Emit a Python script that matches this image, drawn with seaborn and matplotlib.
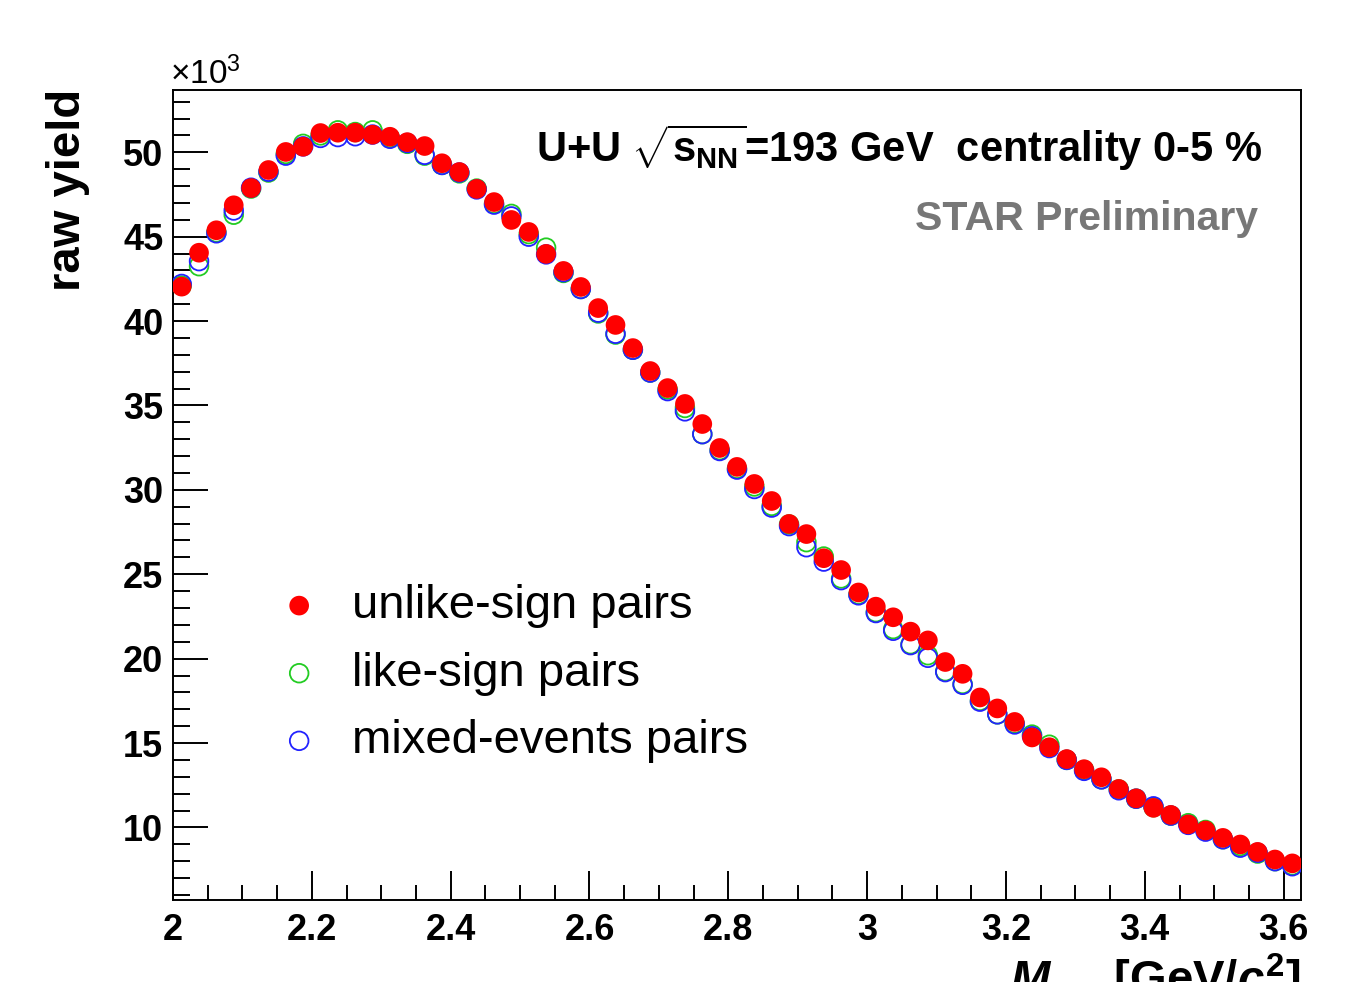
import numpy as np
import pandas as pd
import matplotlib
matplotlib.use("Agg")
import matplotlib.pyplot as plt
from matplotlib.ticker import MultipleLocator, FuncFormatter
import seaborn as sns

# invariant mass bin centres [GeV/c^2], 0.025 wide bins from 2.0 to 3.625
mass = [2.0125, 2.0375, 2.0625, 2.0875, 2.1125, 2.1375, 2.1625, 2.1875, 2.2125, 2.2375,
        2.2625, 2.2875, 2.3125, 2.3375, 2.3625, 2.3875, 2.4125, 2.4375, 2.4625, 2.4875,
        2.5125, 2.5375, 2.5625, 2.5875, 2.6125, 2.6375, 2.6625, 2.6875, 2.7125, 2.7375,
        2.7625, 2.7875, 2.8125, 2.8375, 2.8625, 2.8875, 2.9125, 2.9375, 2.9625, 2.9875,
        3.0125, 3.0375, 3.0625, 3.0875, 3.1125, 3.1375, 3.1625, 3.1875, 3.2125, 3.2375,
        3.2625, 3.2875, 3.3125, 3.3375, 3.3625, 3.3875, 3.4125, 3.4375, 3.4625, 3.4875,
        3.5125, 3.5375, 3.5625, 3.5875, 3.6125]

# raw yields in units of 10^3
unlike = [42.04, 44.05, 45.38, 46.86, 47.88, 48.95, 50.02, 50.33, 51.14, 51.16,
          51.16, 51.04, 50.92, 50.60, 50.37, 49.35, 48.83, 47.83, 47.05, 45.99,
          45.28, 43.98, 42.97, 42.02, 40.77, 39.77, 38.40, 37.04, 36.03, 35.09,
          33.90, 32.48, 31.36, 30.35, 29.34, 27.98, 27.38, 25.95, 25.25, 23.92,
          23.08, 22.45, 21.60, 21.08, 19.80, 19.10, 17.70, 17.05, 16.25, 15.33,
          14.75, 14.05, 13.45, 12.97, 12.28, 11.72, 11.16, 10.74, 10.18, 9.82,
          9.38, 8.99, 8.55, 8.10, 7.87]

like = [42.10, 43.25, 45.25, 46.30, 47.85, 48.80, 49.90, 50.50, 51.00, 51.30,
        51.20, 51.30, 50.85, 50.50, 49.80, 49.25, 48.75, 47.85, 46.95, 46.35,
        45.15, 44.35, 42.85, 41.90, 40.45, 39.20, 38.30, 36.95, 35.95, 34.85,
        33.30, 32.35, 31.25, 30.20, 29.05, 27.95, 26.90, 26.05, 24.75, 23.80,
        22.75, 21.75, 20.85, 20.20, 19.25, 18.50, 17.50, 16.70, 16.15, 15.50,
        14.90, 14.00, 13.40, 12.85, 12.25, 11.70, 11.20, 10.70, 10.25, 9.85,
        9.30, 8.90, 8.45, 8.00, 7.75]

mixed = [42.20, 43.55, 45.20, 46.55, 47.90, 48.85, 49.80, 50.35, 50.85, 50.90,
         50.95, 51.05, 50.80, 50.55, 49.85, 49.25, 48.80, 47.80, 46.90, 46.20,
         45.00, 43.95, 42.90, 41.90, 40.50, 39.25, 38.30, 36.95, 35.85, 34.65,
         33.30, 32.30, 31.20, 30.05, 28.95, 27.85, 26.60, 25.75, 24.65, 23.75,
         22.70, 21.65, 20.80, 20.05, 19.20, 18.45, 17.45, 16.70, 16.10, 15.40,
         14.70, 14.00, 13.35, 12.85, 12.20, 11.70, 11.25, 10.70, 10.15, 9.75,
         9.30, 8.80, 8.50, 8.00, 7.70]

df = pd.DataFrame({"mass": mass, "unlike": unlike, "like": like, "mixed": mixed})

sns.set_style("ticks")
plt.rcParams["font.family"] = ["Liberation Sans", "DejaVu Sans"]
plt.rcParams["mathtext.fontset"] = "custom"
plt.rcParams["mathtext.default"] = "regular"
plt.rcParams["mathtext.it"] = "Liberation Sans:italic:bold"
plt.rcParams["mathtext.rm"] = "Liberation Sans:bold"
for key in ["text.color", "axes.labelcolor", "xtick.color", "ytick.color", "axes.edgecolor"]:
    plt.rcParams[key] = "black"

W, H = 1360, 982
fig = plt.figure(figsize=(W / 100, H / 100), dpi=100)
ax = fig.add_axes([173 / W, 1 - 900 / H, (1301 - 173) / W, (900 - 90) / H])

sns.scatterplot(data=df, x="mass", y="like", ax=ax, s=180, marker="o",
                facecolor="none", edgecolor="#22cc22", linewidth=1.3,
                label="like-sign pairs", zorder=3)
sns.scatterplot(data=df, x="mass", y="mixed", ax=ax, s=180, marker="o",
                facecolor="none", edgecolor="#2222ff", linewidth=1.3,
                label="mixed-events pairs", zorder=4)
sns.scatterplot(data=df, x="mass", y="unlike", ax=ax, s=200, marker="o",
                color="#ff0000", edgecolor="none", linewidth=0,
                label="unlike-sign pairs", zorder=5)

ax.set_xlim(2.0, 3.625)
ax.set_ylim(5.7, 53.69)
ax.set_xlabel("")
ax.set_ylabel("")

ax.xaxis.set_major_locator(MultipleLocator(0.2))
ax.xaxis.set_minor_locator(MultipleLocator(0.05))
ax.yaxis.set_major_locator(MultipleLocator(5))
ax.yaxis.set_minor_locator(MultipleLocator(1))
ax.xaxis.set_major_formatter(FuncFormatter(lambda v, p: "%g" % round(v, 3)))
ax.yaxis.set_major_formatter(FuncFormatter(lambda v, p: "%g" % round(v, 3)))

ax.tick_params(axis="both", which="both", direction="in", width=1.4,
               top=False, right=False, colors="black")
ax.tick_params(axis="x", which="major", length=21, labelsize=26, pad=9)
ax.tick_params(axis="x", which="minor", length=11)
ax.tick_params(axis="y", which="major", length=25, labelsize=26, pad=7)
ax.tick_params(axis="y", which="minor", length=12.5)
for lab in ax.get_xticklabels() + ax.get_yticklabels():
    lab.set_fontweight("bold")
for sp in ax.spines.values():
    sp.set_linewidth(1.4)
    sp.set_color("black")

# legend in ROOT order
h, l = ax.get_legend_handles_labels()
order = [l.index("unlike-sign pairs"), l.index("like-sign pairs"), l.index("mixed-events pairs")]
ax.legend([h[i] for i in order], [l[i] for i in order], loc="upper left",
          bbox_to_anchor=((285 - 173) / (1301 - 173), 1 - (584 - 90) / (900 - 90)),
          frameon=False, fontsize=34, handlelength=0.6, handletextpad=0.82,
          labelspacing=0.5, borderpad=0, borderaxespad=0)

fig.text(1262 / W, 1 - 162 / H,
         r"U+U $\sqrt{s_{NN}}$=193 GeV  centrality 0-5 %",
         ha="right", va="baseline", fontsize=30, fontweight="bold")
fig.text(1258 / W, 1 - 230 / H, "STAR Preliminary", ha="right", va="baseline",
         fontsize=29.5, fontweight="bold", color="#777777")
fig.text(68 / W, 1 - 190 / H, "raw yield", rotation=90, ha="center", va="center",
         fontsize=34, fontweight="bold")
fig.text(170 / W, 1 - 84 / H, r"$\times$10$^{3}$", ha="left", va="baseline",
         fontsize=24)
fig.text(1300 / W, 1 - 952 / H, r"$\mathit{M}_{ee}$  [GeV/$\mathit{c}^{2}$]",
         ha="right", va="top", fontsize=34, fontweight="bold")

fig.savefig("out.png", dpi=100)
